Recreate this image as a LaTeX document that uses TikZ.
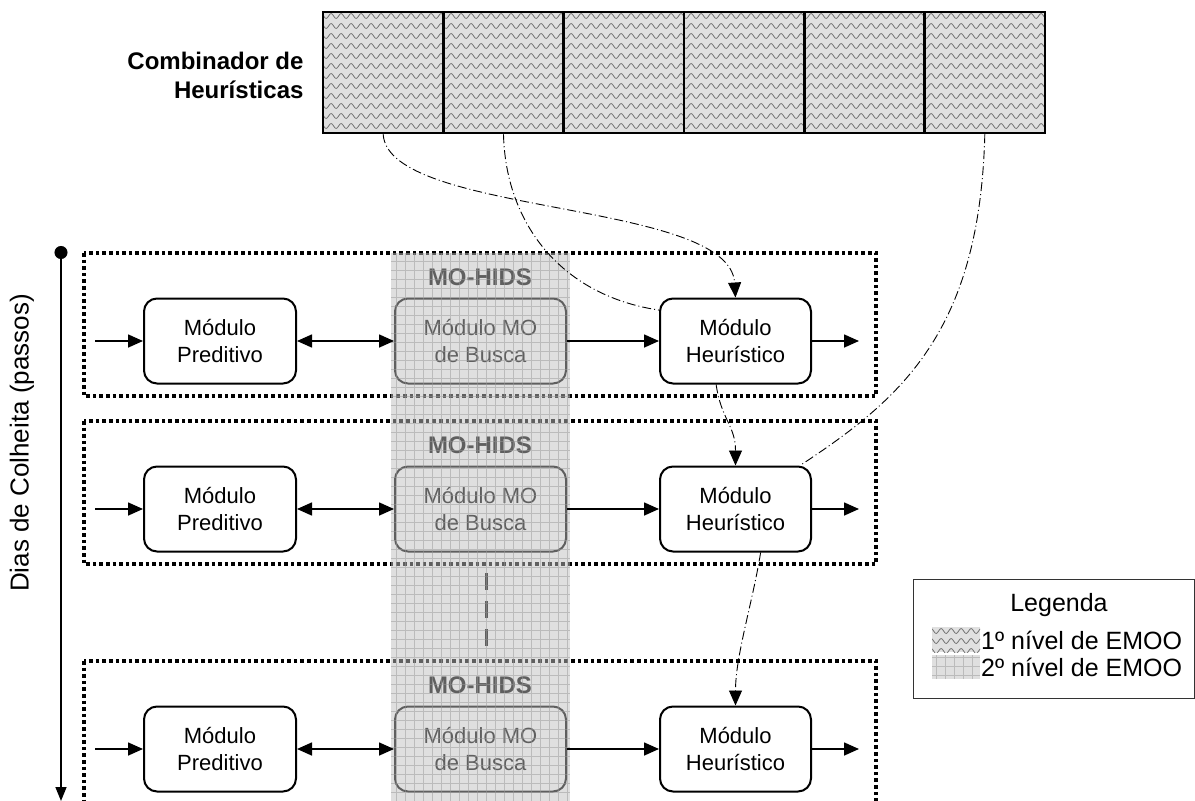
\documentclass[tikz,border=0pt]{standalone}
\usepackage{fontspec}
\setmainfont{Liberation Sans}
\usetikzlibrary{arrows.meta,decorations.pathmorphing}

\begin{document}
\begin{tikzpicture}
    [x=1pt,y=-1pt,
     modulo/.style={draw,line width=2pt,rounded corners=13pt,minimum height=85pt,
       align=center,font=\fontsize{22}{27}\selectfont},
     fluxo/.style={line width=1.6pt,-{Triangle[length=15pt,width=13pt]}},
     elo/.style={line width=0.9pt,dash pattern=on 9pt off 3pt on 1pt off 3pt},
     pontilhado/.style={line width=3.6pt,dash pattern=on 3.6pt off 3pt},
     onda/.style={black!55,line width=0.8pt,decorate,
       decoration={snake,segment length=10pt,amplitude=2.5pt}},
     malha/.style={black!40,line width=0.5pt,step=9pt,opacity=0.5},
     celula/.style={draw,line width=2.5pt,minimum width=120.3pt,minimum height=121pt,inner sep=0pt},
     negrito/.style={font=\bfseries\fontsize{24}{29}\selectfont}]
  \useasboundingbox (0,0) rectangle (1195,801);

  % combinador de heuristicas
  \fill[black!12] (323,12) rectangle (1045,133);
  \begin{scope}
    \clip (323,12) rectangle (1045,133);
    \foreach \h in {16,26,...,136}
      \draw[onda] (318,\h) -- (1050,\h);
  \end{scope}
  \foreach \i in {1,...,6}
    \node[celula] (cel\i) at ({323+120.33*(\i-0.5)},72.5) {};
  \node[negrito,align=right,anchor=east] (comb) at (307,75) {Combinador de\\Heurísticas};

  % eixo dos dias
  \coordinate (eixoA) at (61,246);
  \coordinate (eixoB) at (61,801);
  \draw[line width=1.5pt,{Circle[length=13pt]}-{Triangle[length=14pt,width=11pt]}] (eixoA) -- (eixoB);
  \node[rotate=90,font=\fontsize{26}{30}\selectfont] (rotulo) at (22,443) {Dias de Colheita (passos)};

  % passos
  \foreach \r/\y in {1/341,2/509,3/749} {
    \draw[pontilhado] (84,{\y-88}) rectangle (876,{\y+55});
    \node[modulo,minimum width=152pt] (pred\r) at (220,\y) {Módulo\\Preditivo};
    \node[modulo,minimum width=171pt] (busca\r) at (480.5,\y) {Módulo MO\\de Busca};
    \node[modulo,minimum width=151pt] (heur\r) at (735.5,\y) {Módulo\\Heurístico};
    \node[negrito] (hids\r) at (480,{\y-64}) {MO-HIDS};
  }
  \coordinate (pA) at (486,573);
  \coordinate (pB) at (486,646);
  \draw[line width=3pt,dash pattern=on 17pt off 11pt] (pA) -- (pB);

  % 2o nivel
  \fill[black!25,opacity=0.5] (391,253) rectangle (570,801);
  \draw[malha] (391,253) grid (570,801);

  \foreach \r/\y in {1/341,2/509,3/749} {
    \coordinate (ent\r) at (95,\y);
    \coordinate (sai\r) at (859,\y);
    \draw[fluxo] (ent\r) -- (pred\r);
    \draw[fluxo,{Triangle[length=15pt,width=13pt]}-{Triangle[length=15pt,width=13pt]}] (pred\r) -- (busca\r);
    \draw[fluxo] (busca\r) -- (heur\r);
    \draw[fluxo] (heur\r) -- (sai\r);
  }

  % ligacoes do combinador
  \draw[elo,-{Triangle[length=15pt,width=13pt]}] (cel1.south) .. controls +(5,82) and +(-6,-98) .. (heur1.north);
  \draw[elo] (cel2.south) .. controls +(2,87) and +(-100,-15) .. (heur1.158);
  \draw[elo] (cel6.south) .. controls +(-5,197) and +(102,-67) .. (heur2.34);
  \draw[elo,-{Triangle[length=15pt,width=13pt]}] (heur1.-114) .. controls +(5,35) and +(0,-40) .. (heur2.north);
  \draw[elo,-{Triangle[length=15pt,width=13pt]}] (heur2.-60) .. controls +(-8,50) and +(0,-50) .. (heur3.north);

  % legenda
  \draw[black!80,line width=1pt] (913,579) rectangle (1194,698);
  \node[font=\fontsize{25}{30}\selectfont] (leg) at (1059,605) {Legenda};
  \fill[black!12] (932,627) rectangle (980,652);
  \begin{scope}
    \clip (932,627) rectangle (980,652);
    \foreach \h in {631,641,651}
      \draw[onda] (928,\h) -- (985,\h);
  \end{scope}
  \fill[black!25,opacity=0.5] (932,655) rectangle (980,679);
  \draw[malha] (932,655) grid (980,679);
  \node[anchor=west,font=\fontsize{25}{30}\selectfont,inner sep=1pt] (niv1) at (980,640) {1º nível de EMOO};
  \node[anchor=west,font=\fontsize{25}{30}\selectfont,inner sep=1pt] (niv2) at (980,667) {2º nível de EMOO};
\end{tikzpicture}
\end{document}
